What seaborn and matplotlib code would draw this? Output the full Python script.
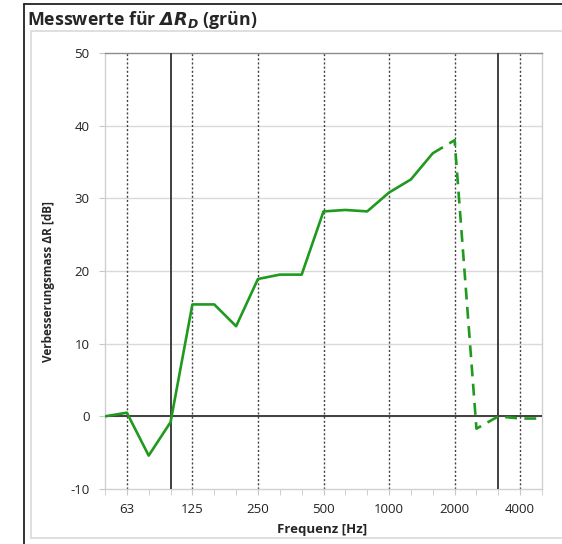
import numpy as np
import pandas as pd
import matplotlib
matplotlib.use("Agg")
import matplotlib.pyplot as plt
from matplotlib.lines import Line2D
from matplotlib.ticker import FixedLocator, NullFormatter
import seaborn as sns

# Third-octave bands and measured improvement values
freqs = ["50", "63", "80", "100", "125", "160", "200", "250", "315", "400",
         "500", "630", "800", "1000", "1250", "1600", "2000", "2500", "3150",
         "4000", "5000"]
delta_r = [0.0, 0.5, -5.4, -0.8, 15.4, 15.4, 12.4, 18.9, 19.5, 19.5,
           28.2, 28.4, 28.2, 30.8, 32.6, 36.2, 38.0, -1.7, 0.0,
           -0.3, -0.3]
octave_labels = ["63", "125", "250", "500", "1000", "2000", "4000"]
limit_bands = ["100", "3150"]
solid_until = "1600"
y_ticks = [-10, 0, 10, 20, 30, 40, 50]

sns.set_style("white")
plt.rcParams["font.family"] = ["Open Sans", "DejaVu Sans"]
plt.rcParams["mathtext.fontset"] = "dejavusans"
plt.rcParams["axes.unicode_minus"] = False

df = pd.DataFrame({"pos": np.arange(len(freqs)), "freq": freqs, "dR": delta_r})
cut = freqs.index(solid_until)

W, H = 562, 544
fig = plt.figure(figsize=(W / 100, H / 100), dpi=100)
ax = fig.add_axes([105 / W, 1 - 489 / H, 437 / W, 436 / H])

green = "#1f9a1f"
sns.lineplot(data=df.iloc[:cut + 1], x="pos", y="dR", color=green, linewidth=1.9,
             sort=False, ax=ax, zorder=5)
sns.lineplot(data=df.iloc[cut:], x="pos", y="dR", color=green, linewidth=1.9,
             sort=False, ax=ax, zorder=5)
ax.lines[-1].set_dashes([4.5, 2.8])

ax.set_xlim(0, len(freqs) - 1)
ax.set_ylim(y_ticks[0], y_ticks[-1])

# grid and reference lines
for y in y_ticks[1:-1]:
    ax.axhline(y, color="#d9d9d9", linewidth=1, zorder=1)
ax.axhline(0, color="#404040", linewidth=1.4, zorder=3)
for lab in octave_labels:
    ax.axvline(freqs.index(lab), color="#444444", linewidth=1.0,
               linestyle=(0, (1.5, 1.5)), zorder=2)
for lab in limit_bands:
    ax.axvline(freqs.index(lab), color="#404040", linewidth=1.4, zorder=3)

ax.set_yticks(y_ticks)
ax.set_xticks([freqs.index(l) for l in octave_labels])
ax.set_xticklabels(octave_labels)
ax.xaxis.set_minor_locator(FixedLocator(df["pos"].tolist()))
ax.xaxis.set_minor_formatter(NullFormatter())
ax.tick_params(axis="both", which="both", direction="out", length=4,
               color="#c8c8c8", labelsize=9.5, labelcolor="#222222")
ax.tick_params(axis="y", pad=7)
ax.tick_params(axis="x", pad=6)
ax.tick_params(bottom=True, left=True, which="both")

for side in ["left", "right", "bottom"]:
    ax.spines[side].set_color("#d0d0d0")
    ax.spines[side].set_linewidth(1)
ax.spines["top"].set_color("#8c8c8c")
ax.spines["top"].set_linewidth(1)

ax.set_xlabel("Frequenz [Hz]", fontsize=9.5, fontweight="bold")
ax.set_ylabel("Verbesserungsmass ΔR [dB]", fontsize=8.5, fontweight="bold")
ax.xaxis.set_label_coords(0.497, -0.078)
ax.yaxis.set_label_coords(-0.115, 0.475)

fig.text(27 / W, 1 - 25 / H, r"Messwerte für $\mathbfit{\Delta R_D}$ (grün)",
         fontsize=12.8, fontweight="bold", va="baseline", ha="left")

# chart frame
def fline(x0, y0, x1, y1, **kw):
    fig.add_artist(Line2D([x0 / W, x1 / W], [1 - y0 / H, 1 - y1 / H],
                          transform=fig.transFigure, **kw))

fline(24, 4, W, 4, color="#222222", linewidth=1.3)
fline(24, 4, 24, H, color="#222222", linewidth=1.3)
fline(31, 31, W, 31, color="#d9d9d9", linewidth=1.2)
fline(31, 31, 31, 538, color="#d9d9d9", linewidth=1.2)
fline(31, 538, W, 538, color="#d9d9d9", linewidth=1.2)

fig.savefig("out.png", dpi=100)
print("Done")
